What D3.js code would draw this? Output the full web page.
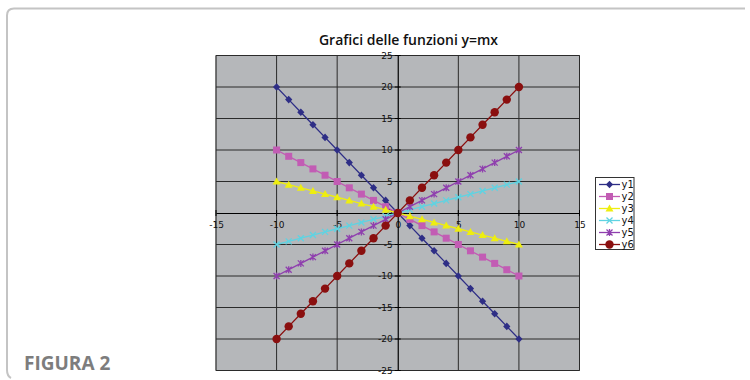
<!DOCTYPE html>
<html><head><meta charset="utf-8">
<script src="https://cdn.jsdelivr.net/npm/d3@7"></script>
<style>html,body{margin:0;padding:0;background:#fff;}svg{display:block;}</style>
</head><body>
<svg id="chart" width="750" height="380"></svg>
<script>
const title = "Grafici delle funzioni y=mx";
const figLabel = "FIGURA 2";
const xValues = [-10,-9,-8,-7,-6,-5,-4,-3,-2,-1,0,1,2,3,4,5,6,7,8,9,10];
const y1 = [20,18,16,14,12,10,8,6,4,2,0,-2,-4,-6,-8,-10,-12,-14,-16,-18,-20];
const y2 = [10,9,8,7,6,5,4,3,2,1,0,-1,-2,-3,-4,-5,-6,-7,-8,-9,-10];
const y3 = [5,4.5,4,3.5,3,2.5,2,1.5,1,0.5,0,-0.5,-1,-1.5,-2,-2.5,-3,-3.5,-4,-4.5,-5];
const y4 = [-5,-4.5,-4,-3.5,-3,-2.5,-2,-1.5,-1,-0.5,0,0.5,1,1.5,2,2.5,3,3.5,4,4.5,5];
const y5 = [-10,-9,-8,-7,-6,-5,-4,-3,-2,-1,0,1,2,3,4,5,6,7,8,9,10];
const y6 = [-20,-18,-16,-14,-12,-10,-8,-6,-4,-2,0,2,4,6,8,10,12,14,16,18,20];
const seriesNames = ["y1","y2","y3","y4","y5","y6"];
const seriesValues = [y1,y2,y3,y4,y5,y6];
const xTicks = [-15,-10,-5,0,5,10,15];
const yTicks = [-25,-20,-15,-10,-5,0,5,10,15,20,25];

const colors = ["#2e2e86","#c25cb4","#eeee10","#5fd3e2","#8f3fae","#8a0f0f"];
const markers = ["diamond","square","triangle","x","star","circle"];

const svg = d3.select("#chart");

// frame
svg.append("path")
  .attr("d","M745,8.5 L14,8.5 Q7,8.5 7,15.5 L7,370 Q7,376 11,378")
  .attr("fill","none").attr("stroke","#c4c4c4").attr("stroke-width",2);

const L=216, R=579.5, T=55.5, B=370.5;
const x = d3.scaleLinear().domain([-15,15]).range([L,R]);
const y = d3.scaleLinear().domain([-25,25]).range([B,T]);

svg.append("rect").attr("x",L).attr("y",T).attr("width",R-L).attr("height",B-T)
  .attr("fill","#b5b7ba").attr("stroke","#8e8e8e").attr("stroke-width",1);

// gridlines
const g = svg.append("g");
g.selectAll("line.vg").data(xTicks.filter(d=>d!==0)).join("line")
  .attr("x1",d=>x(d)).attr("x2",d=>x(d)).attr("y1",T).attr("y2",B)
  .attr("stroke","#2b2b2b").attr("stroke-width",1);
g.selectAll("line.hg").data(yTicks.filter(d=>d!==0)).join("line")
  .attr("y1",d=>y(d)).attr("y2",d=>y(d)).attr("x1",L).attr("x2",R)
  .attr("stroke","#2b2b2b").attr("stroke-width",1);

// axes through origin
const fmt = d => String(d);
const xAxis = d3.axisBottom(x).tickValues(xTicks).tickFormat(fmt).tickSize(0).tickPadding(9);
const yAxis = d3.axisLeft(y).tickValues(yTicks).tickFormat(fmt).tickSize(0).tickPadding(5);
const gx = svg.append("g").attr("transform",`translate(0,${y(0)})`).call(xAxis);
const gy = svg.append("g").attr("transform",`translate(${x(0)},0)`).call(yAxis);
[gx,gy].forEach(a=>{
  a.select(".domain").attr("stroke","#000").attr("stroke-width",1.2);
  a.selectAll("text").attr("font-family","DejaVu Sans, sans-serif").attr("font-size",9).attr("fill","#111");
});
// tick marks (cross)
svg.append("g").selectAll("line").data(xTicks).join("line")
  .attr("x1",d=>x(d)).attr("x2",d=>x(d)).attr("y1",y(0)-3).attr("y2",y(0)+3)
  .attr("stroke","#000").attr("stroke-width",1);
svg.append("g").selectAll("line").data(yTicks).join("line")
  .attr("y1",d=>y(d)).attr("y2",d=>y(d)).attr("x1",x(0)-3).attr("x2",x(0)+3)
  .attr("stroke","#000").attr("stroke-width",1);

function drawMarker(sel, type, color, cx, cy){
  if(type==="diamond"){
    sel.append("path").attr("d",`M${cx},${cy-3.8}L${cx+3.6},${cy}L${cx},${cy+3.8}L${cx-3.6},${cy}Z`).attr("fill",color);
  } else if(type==="square"){
    sel.append("rect").attr("x",cx-3.5).attr("y",cy-3.5).attr("width",7).attr("height",7).attr("fill",color);
  } else if(type==="triangle"){
    sel.append("path").attr("d",`M${cx},${cy-4}L${cx+4},${cy+3}L${cx-4},${cy+3}Z`).attr("fill",color);
  } else if(type==="x"){
    sel.append("path").attr("d",`M${cx-3},${cy-3}L${cx+3},${cy+3}M${cx-3},${cy+3}L${cx+3},${cy-3}`).attr("stroke",color).attr("stroke-width",1.3);
  } else if(type==="star"){
    sel.append("path").attr("d",`M${cx-3},${cy-3}L${cx+3},${cy+3}M${cx-3},${cy+3}L${cx+3},${cy-3}M${cx},${cy-3.5}L${cx},${cy+3.5}`).attr("stroke",color).attr("stroke-width",1.3);
  } else {
    sel.append("circle").attr("cx",cx).attr("cy",cy).attr("r",4.2).attr("fill",color);
  }
}

const line = d3.line().x(d=>x(d[0])).y(d=>y(d[1]));
seriesValues.forEach((vals,i)=>{
  const pts = xValues.map((xv,j)=>[xv,vals[j]]);
  const sg = svg.append("g");
  sg.append("path").attr("d",line(pts)).attr("fill","none").attr("stroke",colors[i]).attr("stroke-width",1.3);
  pts.forEach(p=>drawMarker(sg,markers[i],colors[i],x(p[0]),y(p[1])));
});

// legend
const lg = svg.append("g");
lg.append("rect").attr("x",595.5).attr("y",177.5).attr("width",38.5).attr("height",72)
  .attr("fill","#fff").attr("stroke","#333").attr("stroke-width",1);
seriesNames.forEach((n,i)=>{
  const ly = 184.5 + i*12;
  lg.append("line").attr("x1",599).attr("x2",620).attr("y1",ly).attr("y2",ly).attr("stroke",colors[i]).attr("stroke-width",1.3);
  drawMarker(lg,markers[i],colors[i],609.5,ly);
  lg.append("text").attr("x",621.5).attr("y",ly).attr("dy","0.35em")
    .attr("font-family","DejaVu Sans, sans-serif").attr("font-size",10).attr("fill","#111").text(n);
});

// title
svg.append("text").attr("x",408.5).attr("y",45).attr("text-anchor","middle")
  .attr("font-family","Open Sans, sans-serif").attr("font-weight",600).attr("font-size",14)
  .attr("fill","#111").text(title);

svg.append("text").attr("x",24).attr("y",369.5)
  .attr("font-family","Open Sans, sans-serif").attr("font-weight","bold").attr("font-size",19)
  .attr("fill","#7d7d7d").text(figLabel);
</script>
</body></html>
